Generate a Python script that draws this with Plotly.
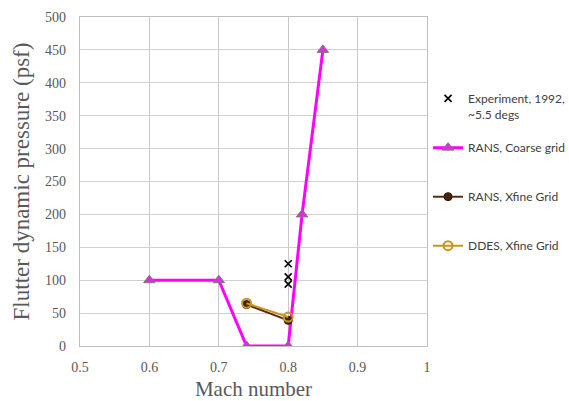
import plotly.graph_objects as go

# Flutter boundary data
exp_mach = [0.8, 0.8, 0.8]
exp_q = [125, 105, 94]

coarse_mach = [0.6, 0.7, 0.74, 0.8, 0.82, 0.85]
coarse_q = [100, 100, 0, 0, 200, 450]

rans_fine_mach = [0.74, 0.8]
rans_fine_q = [63, 39]

ddes_fine_mach = [0.74, 0.8]
ddes_fine_q = [65, 44]

x_ticks = [0.5, 0.6, 0.7, 0.8, 0.9, 1.0]
x_tick_text = ["0.5", "0.6", "0.7", "0.8", "0.9", "1"]
y_ticks = [0, 50, 100, 150, 200, 250, 300, 350, 400, 450, 500]

fig = go.Figure()

fig.add_trace(go.Scatter(
    x=exp_mach, y=exp_q, mode="markers",
    name="Experiment, 1992,<br>~5.5 degs", legend="legend2",
    marker=dict(symbol="x-thin-open", size=7, color="black",
                line=dict(width=1.6, color="black")),
))
fig.add_trace(go.Scatter(
    x=coarse_mach, y=coarse_q, mode="lines+markers",
    name="RANS, Coarse grid", legendgroup="b",
    line=dict(color="#FF00FF", width=3),
    marker=dict(symbol="triangle-up", size=10, color="#D633D6",
                line=dict(width=1, color="#8C6E8C")),
))
fig.add_trace(go.Scatter(
    x=rans_fine_mach, y=rans_fine_q, mode="lines+markers",
    name="RANS, Xfine Grid", legendgroup="c",
    line=dict(color="#5C2B12", width=2),
    marker=dict(symbol="circle", size=8, color="#4A2210",
                line=dict(width=1, color="#2E1408")),
))
fig.add_trace(go.Scatter(
    x=ddes_fine_mach, y=ddes_fine_q, mode="lines+markers",
    name="DDES, Xfine Grid", legendgroup="d",
    line=dict(color="#C8961E", width=2),
    marker=dict(symbol="circle-open", size=9, color="#C8961E",
                line=dict(width=2, color="#C8961E")),
))

serif = "Liberation Serif, Times New Roman, serif"
axis_font = dict(family=serif, size=14, color="#595959")
legend_font = dict(family="Lato, Liberation Sans, sans-serif", size=12, color="#404040")

fig.update_layout(
    width=569, height=401,
    margin=dict(l=80, r=142, t=17, b=55, autoexpand=False),
    paper_bgcolor="white", plot_bgcolor="white",
    showlegend=True,
    legend=dict(
        x=1.003, y=0.647, xanchor="left", yanchor="top",
        font=legend_font, tracegroupgap=30, valign="middle", itemwidth=30,
        bgcolor="rgba(0,0,0,0)",
    ),
    legend2=dict(
        x=1.003, y=0.796, xanchor="left", yanchor="top",
        font=legend_font, valign="top", itemwidth=30,
        bgcolor="rgba(0,0,0,0)",
    ),
    xaxis=dict(
        range=[0.5, 1.0], tickvals=x_ticks, ticktext=x_tick_text,
        showgrid=True, gridcolor="#C8C8C8", gridwidth=1.3,
        zeroline=False, showline=True, linecolor="#BFBFBF", linewidth=1.3, mirror=True,
        ticks="", tickfont=axis_font, ticklabelstandoff=8,
        title=dict(text="Mach number", standoff=12,
                   font=dict(family=serif, size=21, color="#595959")),
    ),
    yaxis=dict(
        range=[0, 500], tickvals=y_ticks,
        showgrid=True, gridcolor="#D0D0D0", gridwidth=1.3,
        zeroline=False, showline=True, linecolor="#BFBFBF", linewidth=1.3, mirror=True,
        ticks="", tickfont=axis_font, ticklabelstandoff=10,
        title=dict(text="Flutter dynamic pressure (psf)", standoff=8,
                   font=dict(family=serif, size=23, color="#595959")),
    ),
)

fig.write_html("out.html")
